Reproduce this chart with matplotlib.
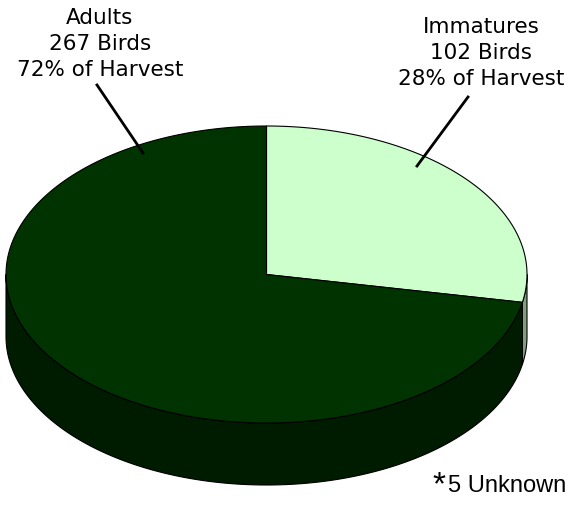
import numpy as np
import matplotlib.pyplot as plt
from matplotlib.patches import Polygon

# ---- data ----
categories = ["Immatures", "Adults"]
birds = [102, 267]
percent = [28, 72]
top_colors = ["#CCFFCC", "#003300"]
side_colors = ["#7F9F7F", "#001C00"]
note = "5 Unknown"

# ---- geometry (pixel space) ----
W, H = 571, 508
cx, cy, rx, ry, depth = 266.5, 274.5, 260.5, 148.5, 62

fig = plt.figure(figsize=(W / 100, H / 100), dpi=100)
ax = fig.add_axes([0, 0, 1, 1])
ax.set_xlim(0, W)
ax.set_ylim(H, 0)
ax.axis("off")


def arc(t1, t2, dy=0.0, n=200):
    t = np.radians(np.linspace(t1, t2, n))
    return np.column_stack([cx + rx * np.cos(t), cy - ry * np.sin(t) + dy])


# slice angles: start at 90 deg, clockwise
total = sum(percent)
starts, ends = [], []
a = 90.0
for p in percent:
    b = a - 360.0 * p / total
    starts.append(a)
    ends.append(b)
    a = b

# side walls (visible front half: angles 180..360)
for s, e, col in zip(starts, ends, side_colors):
    lo, hi = min(s, e), max(s, e)
    for shift in (0, 360, -360):
        l2, h2 = lo + shift, hi + shift
        vl, vh = max(l2, 180), min(h2, 360)
        if vh > vl:
            top = arc(vl, vh)
            bot = arc(vh, vl, dy=depth)
            ax.add_patch(Polygon(np.vstack([top, bot]), closed=True,
                                 facecolor=col, edgecolor="black", lw=0.8,
                                 joinstyle="round", zorder=1))

# top faces
for s, e, col in zip(starts, ends, top_colors):
    pts = np.vstack([[cx, cy], arc(s, e), [cx, cy]])
    ax.add_patch(Polygon(pts, closed=True, facecolor=col, edgecolor="black",
                         lw=0.8, joinstyle="round", zorder=2))

# labels
font = "DejaVu Sans"
ax.text(481, 53, f"{categories[0]}\n{birds[0]} Birds\n{percent[0]}% of Harvest",
        ha="center", va="center", fontsize=15.5, family=font,
        linespacing=1.36, zorder=5)
ax.text(100, 44, f"{categories[1]}\n{birds[1]} Birds\n{percent[1]}% of Harvest",
        ha="center", va="center", fontsize=15.5, family=font,
        linespacing=1.36, zorder=5)

# leader lines
ax.plot([468, 417], [97, 166], color="black", lw=2, zorder=4)
ax.plot([97, 143], [85, 153], color="black", lw=2, zorder=4)

# footnote
ax.text(432, 486, "*", ha="left", va="center", fontsize=24,
        family="Liberation Sans", zorder=5)
ax.text(448, 486, note, ha="left", va="center", fontsize=17,
        family="Liberation Sans", zorder=5)

fig.savefig("out.png", dpi=100)
